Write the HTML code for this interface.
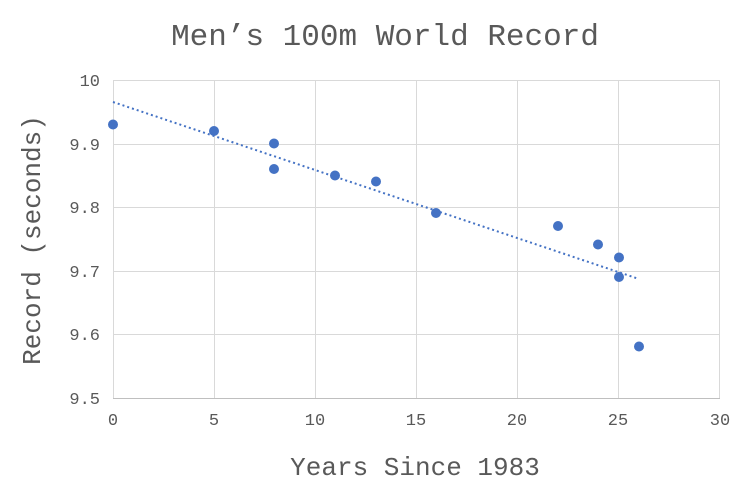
<!DOCTYPE html>
<html><head><style>
body{margin:0;background:#fff;}
svg{display:block;font-family:"Liberation Mono","Noto Sans CJK JP",monospace;}
</style></head><body>
<svg width="744" height="499" xmlns="http://www.w3.org/2000/svg">
<rect width="744" height="499" fill="#fff"/>
<text x="385" y="45" text-anchor="middle" font-size="31" fill="#595959">Men’s 100m World Record</text>
<g stroke="#d9d9d9" stroke-width="1">
<line x1="113" y1="80.5" x2="720" y2="80.5"/>
<line x1="113" y1="144.5" x2="720" y2="144.5"/>
<line x1="113" y1="207.5" x2="720" y2="207.5"/>
<line x1="113" y1="271.5" x2="720" y2="271.5"/>
<line x1="113" y1="334.5" x2="720" y2="334.5"/>
<line x1="113.5" y1="80" x2="113.5" y2="398"/>
<line x1="214.5" y1="80" x2="214.5" y2="398"/>
<line x1="315.5" y1="80" x2="315.5" y2="398"/>
<line x1="416.5" y1="80" x2="416.5" y2="398"/>
<line x1="517.5" y1="80" x2="517.5" y2="398"/>
<line x1="618.5" y1="80" x2="618.5" y2="398"/>
<line x1="719.5" y1="80" x2="719.5" y2="398"/>
</g>
<line x1="113" y1="398.5" x2="720" y2="398.5" stroke="#bfbfbf"/>
<g font-size="17" fill="#595959" text-anchor="end">
<text x="100" y="86">10</text>
<text x="100" y="150">9.9</text>
<text x="100" y="213">9.8</text>
<text x="100" y="277">9.7</text>
<text x="100" y="340">9.6</text>
<text x="100" y="404">9.5</text>
</g>
<g font-size="17" fill="#595959" text-anchor="middle">
<text x="113" y="425">0</text>
<text x="214" y="425">5</text>
<text x="315" y="425">10</text>
<text x="416" y="425">15</text>
<text x="517" y="425">20</text>
<text x="618" y="425">25</text>
<text x="720" y="425">30</text>
</g>
<text x="415" y="475" text-anchor="middle" font-size="26" fill="#595959">Years Since 1983</text>
<text transform="translate(40,240) rotate(-90)" text-anchor="middle" font-size="26" fill="#595959">Record (seconds)</text>
<line x1="113" y1="102" x2="639" y2="279" stroke="#4472c4" stroke-width="2" stroke-dasharray="2,3"/>
<g fill="#4472c4">
<circle cx="113" cy="124.5" r="5"/>
<circle cx="214" cy="131" r="5"/>
<circle cx="274" cy="143.5" r="5"/>
<circle cx="274" cy="169" r="5"/>
<circle cx="335" cy="175.5" r="5"/>
<circle cx="376" cy="181.5" r="5"/>
<circle cx="436" cy="213" r="5"/>
<circle cx="558" cy="226" r="5"/>
<circle cx="598" cy="244.5" r="5"/>
<circle cx="619" cy="257.5" r="5"/>
<circle cx="619" cy="277" r="5"/>
<circle cx="639" cy="346.5" r="5"/>
</g>
</svg>
</body></html>
